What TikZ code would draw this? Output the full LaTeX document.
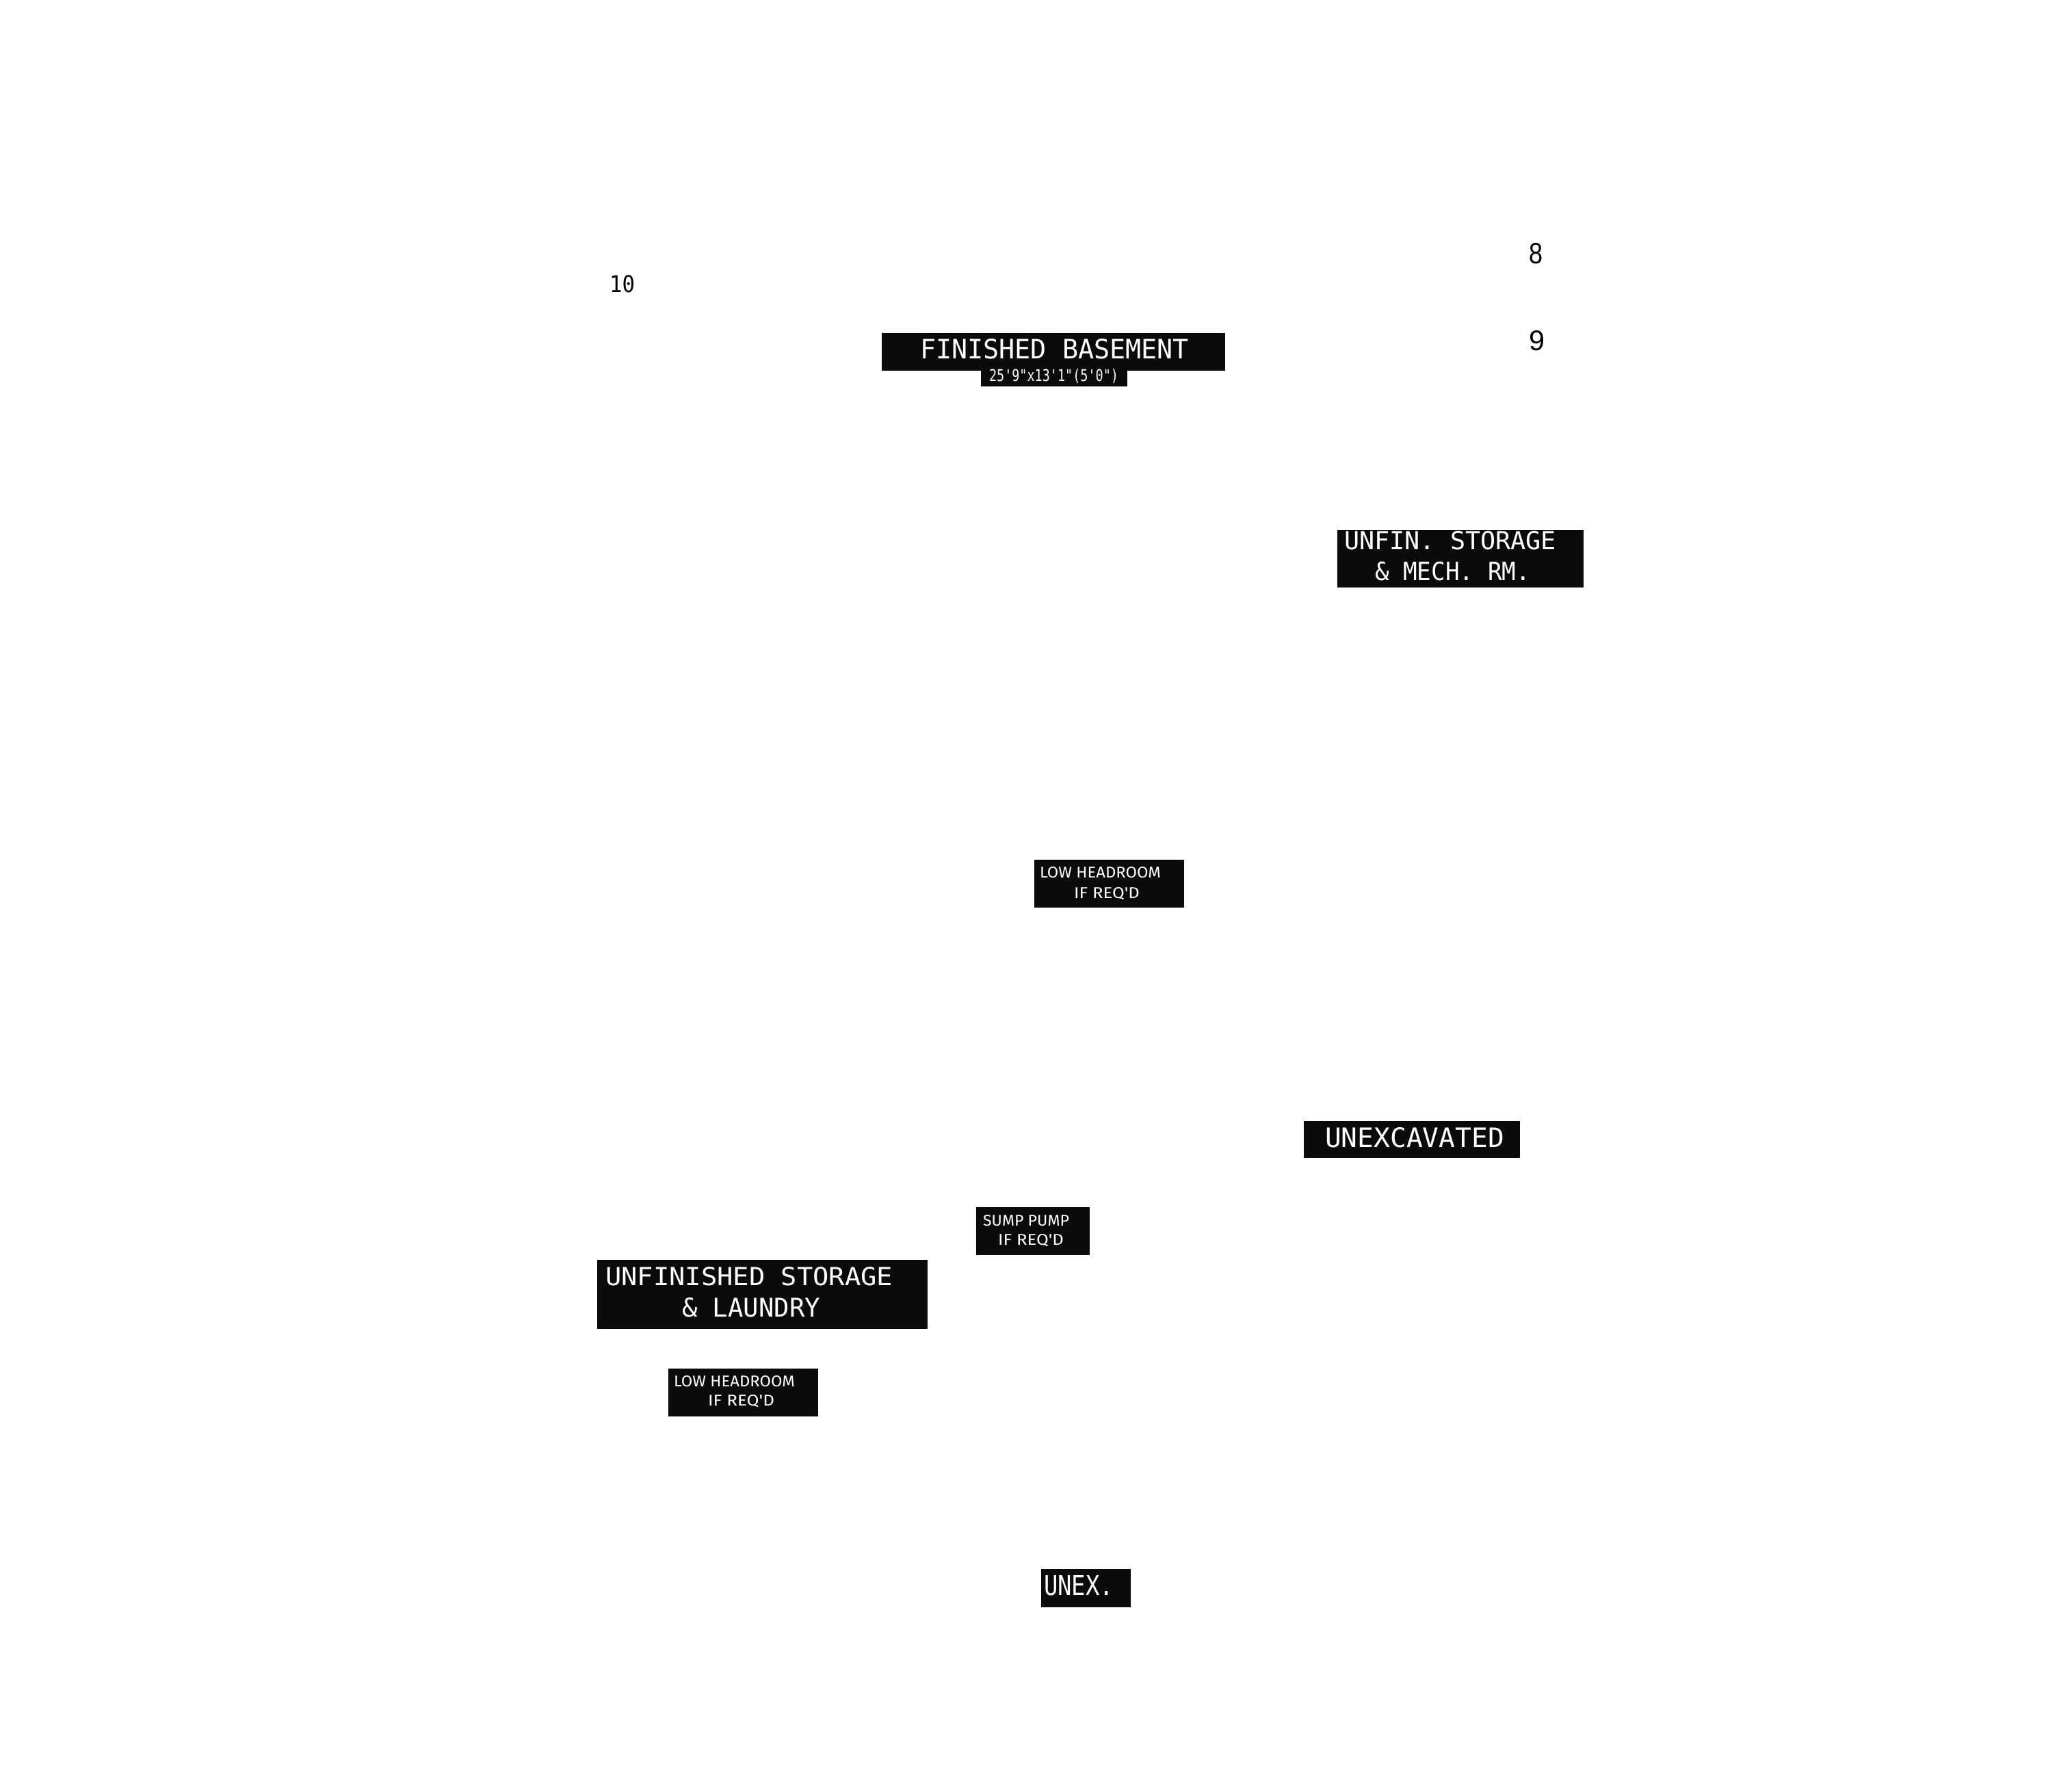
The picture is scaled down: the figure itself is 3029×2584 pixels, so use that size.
\documentclass[tikz,border=0pt]{standalone}
\usepackage{fontspec}
\usepackage{graphicx}
\newfontfamily\monof{DejaVu Sans Mono}
\newfontfamily\sansf{Fira Sans}
\newfontfamily\helvf{Liberation Sans}
\definecolor{boxc}{RGB}{11,11,11}
\newcommand{\fitt}[3]{\resizebox{#1pt}{#2pt}{#3}}
\tikzset{
  blk/.style={fill=boxc, draw=none, inner sep=0pt, outer sep=0pt},
  txt/.style={text=white, inner sep=0pt, outer sep=0pt, anchor=base west},
  num/.style={text=black, inner sep=0pt, outer sep=0pt, anchor=base west},
  bigm/.style={font=\monof\fontsize{38}{40}\selectfont},
  smalls/.style={font=\sansf\fontsize{23}{25}\selectfont},
  dimm/.style={font=\monof\fontsize{22}{24}\selectfont}
}
\begin{document}
\begin{tikzpicture}[x=1pt,y=-1pt]
\useasboundingbox (0,0) rectangle (3029,2584);
\fill[white] (0,0) rectangle (3029,2584);
% boxes
\node[blk, minimum width=502pt, minimum height=55pt] (fb) at (1540,514.5) {};
\node[blk, minimum width=214pt, minimum height=24pt] (fbtab) at (1541,553) {};
\node[blk, minimum width=360pt, minimum height=84pt] (us) at (2135,817) {};
\node[blk, minimum width=219pt, minimum height=70pt] (lh1) at (1621.5,1292) {};
\node[blk, minimum width=316pt, minimum height=54pt] (unexc) at (2064,1666) {};
\node[blk, minimum width=166pt, minimum height=70pt] (sp) at (1510,1800) {};
\node[blk, minimum width=483pt, minimum height=101pt] (ul) at (1114.5,1892.5) {};
\node[blk, minimum width=219pt, minimum height=70pt] (lh2) at (1086.5,2035.5) {};
\node[blk, minimum width=131pt, minimum height=56pt] (unex) at (1587.5,2321.5) {};
% texts
\node[txt,bigm] (tfb) at (1345,524) {\fitt{393}{29}{FINISHED BASEMENT}};
\node[txt,dimm] (tfbdim) at (1446,557) {\fitt{189}{18}{25\textquotesingle 9\textquotedbl x13\textquotesingle 1\textquotedbl (5\textquotesingle 0\textquotedbl )}};
\node[txt,bigm] (tus1) at (1965,803) {\fitt{310}{27}{UNFIN. STORAGE}};
\node[txt,bigm] (tus2) at (2010,848) {\fitt{227}{27}{\& MECH. RM.}};
\node[txt,smalls] (tlh1a) at (1520,1283) {\fitt{177}{16}{LOW HEADROOM}};
\node[txt,smalls] (tlh1b) at (1570,1313) {\fitt{96}{16}{IF REQ\textquotesingle D}};
\node[txt,bigm] (tunexc) at (1937,1677) {\fitt{262}{29}{UNEXCAVATED}};
\node[txt,smalls] (tsp1) at (1437,1792) {\fitt{126}{16}{SUMP PUMP}};
\node[txt,smalls] (tsp2) at (1459,1820) {\fitt{96}{16}{IF REQ\textquotesingle D}};
\node[txt,bigm] (tul1) at (885,1879) {\fitt{420}{27}{UNFINISHED STORAGE}};
\node[txt,bigm] (tul2) at (997,1925) {\fitt{202}{28}{\& LAUNDRY}};
\node[txt,smalls] (tlh2a) at (985,2027) {\fitt{177}{16}{LOW HEADROOM}};
\node[txt,smalls] (tlh2b) at (1035,2055) {\fitt{97}{16}{IF REQ\textquotesingle D}};
\node[txt,bigm] (tunex) at (1526,2332) {\fitt{102}{29}{UNEX.}};
% numbers
\node[num,font=\monof\fontsize{32}{34}\selectfont] (n10) at (891,427) {\fitt{37}{25}{10}};
\node[num,font=\helvf\fontsize{40}{42}\selectfont] (n8) at (2235,385) {\fitt{20}{30}{8}};
\node[num,font=\helvf\fontsize{40}{42}\selectfont] (n9) at (2235,512) {\fitt{23}{29}{9}};
\end{tikzpicture}
\end{document}
